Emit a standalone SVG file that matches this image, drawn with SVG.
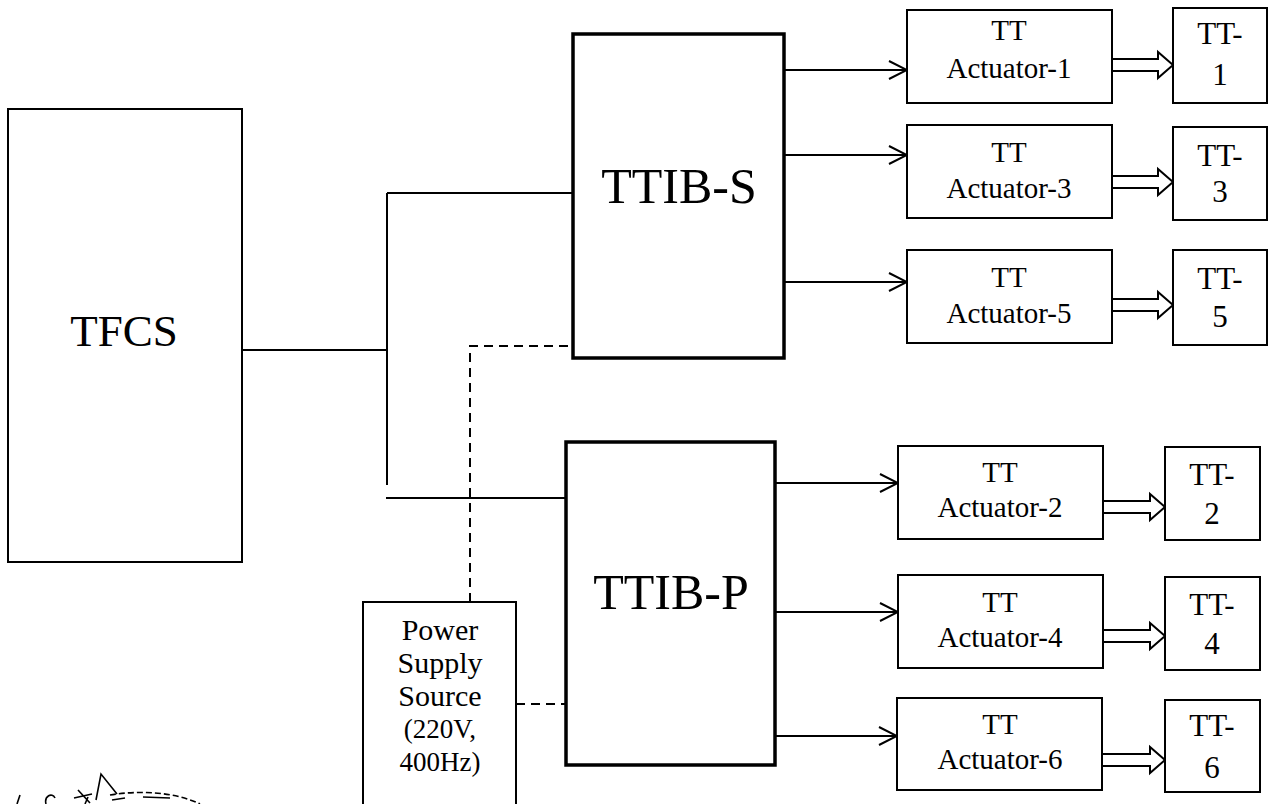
<svg xmlns="http://www.w3.org/2000/svg" width="1271" height="804" viewBox="0 0 1271 804">
<defs>
<style>
.box{fill:#fff;stroke:#000;stroke-width:2}
.thick{fill:#fff;stroke:#000;stroke-width:3.5}
.ln{fill:none;stroke:#000;stroke-width:2}
.dash{fill:none;stroke:#000;stroke-width:2;stroke-dasharray:9 6}
.dbl{fill:none;stroke:#000;stroke-width:2;stroke-linejoin:miter}
text{font-family:"Liberation Serif","Times New Roman",serif;fill:#000;text-anchor:middle}
.big{font-size:50px}
.act{font-size:29px}
.tt{font-size:31px}
.ps{font-size:30px}
.ps2{font-size:27px}
</style>
<marker id="ah" viewBox="0 0 20 20" refX="19" refY="10" markerWidth="20" markerHeight="20" markerUnits="userSpaceOnUse" orient="auto">
<path d="M1,1 L19,10 L1,19" fill="none" stroke="#000" stroke-width="2"/>
</marker>
</defs>
<rect width="1271" height="804" fill="#fff"/>

<g id="connectors">
<path class="ln" d="M242,350 H387"/>
<path class="ln" d="M387,193 V485"/>
<path class="ln" d="M387,193 H573"/>
<path class="ln" d="M386,498 H566"/>
<path class="dash" d="M470,602 V346 H573"/>
<path class="dash" d="M516,704 H566"/>
<path class="ln" marker-end="url(#ah)" d="M784,70 H907"/>
<path class="ln" marker-end="url(#ah)" d="M784,155 H907"/>
<path class="ln" marker-end="url(#ah)" d="M784,282 H907"/>
<path class="ln" marker-end="url(#ah)" d="M775,483 H898"/>
<path class="ln" marker-end="url(#ah)" d="M775,612 H898"/>
<path class="ln" marker-end="url(#ah)" d="M775,736 H897"/>
<path class="dbl" d="M1112,59 H1158 V52 L1173,65 L1158,78 V71 H1112"/>
<path class="dbl" d="M1112,176 H1158 V169 L1173,182 L1158,195 V188 H1112"/>
<path class="dbl" d="M1112,299 H1158 V292 L1173,305 L1158,318 V311 H1112"/>
<path class="dbl" d="M1103,501 H1150 V494 L1165,507 L1150,520 V513 H1103"/>
<path class="dbl" d="M1103,630 H1150 V623 L1165,636 L1150,649 V642 H1103"/>
<path class="dbl" d="M1102,754 H1150 V747 L1165,760 L1150,773 V766 H1102"/>
</g>

<g id="TFCS">
<rect class="box" x="8" y="109" width="234" height="453"/>
<text class="big" style="font-size:45px" x="124" y="346">TFCS</text>
</g>

<g id="TTIB-S">
<rect class="thick" x="573" y="34" width="211" height="324"/>
<text class="big" x="679" y="203">TTIB-S</text>
</g>

<g id="TTIB-P">
<rect class="thick" x="566" y="442" width="209" height="323"/>
<text class="big" x="671" y="609">TTIB-P</text>
</g>

<g id="PowerSupply">
<rect class="box" x="363" y="602" width="153" height="215"/>
<text class="ps" x="440" y="640">Power</text>
<text class="ps" x="440" y="673">Supply</text>
<text class="ps" x="440" y="706">Source</text>
<text class="ps2" x="440" y="738">(220V,</text>
<text class="ps2" x="440" y="771">400Hz)</text>
</g>

<g id="Actuator-1">
<rect class="box" x="907" y="10" width="205" height="93"/>
<text class="act" x="1009" y="40">TT</text>
<text class="act" x="1009" y="78">Actuator-1</text>
</g>
<g id="TT-1">
<rect class="box" x="1173" y="8" width="94" height="95"/>
<text class="tt" x="1220" y="44">TT-</text>
<text class="tt" x="1220" y="85">1</text>
</g>

<g id="Actuator-3">
<rect class="box" x="907" y="125" width="205" height="93"/>
<text class="act" x="1009" y="162">TT</text>
<text class="act" x="1009" y="198">Actuator-3</text>
</g>
<g id="TT-3">
<rect class="box" x="1173" y="127" width="94" height="93"/>
<text class="tt" x="1220" y="166">TT-</text>
<text class="tt" x="1220" y="202">3</text>
</g>

<g id="Actuator-5">
<rect class="box" x="907" y="250" width="205" height="93"/>
<text class="act" x="1009" y="287">TT</text>
<text class="act" x="1009" y="323">Actuator-5</text>
</g>
<g id="TT-5">
<rect class="box" x="1173" y="250" width="94" height="95"/>
<text class="tt" x="1220" y="289">TT-</text>
<text class="tt" x="1220" y="327">5</text>
</g>

<g id="Actuator-2">
<rect class="box" x="898" y="446" width="205" height="93"/>
<text class="act" x="1000" y="482">TT</text>
<text class="act" x="1000" y="517">Actuator-2</text>
</g>
<g id="TT-2">
<rect class="box" x="1165" y="447" width="95" height="93"/>
<text class="tt" x="1212" y="485">TT-</text>
<text class="tt" x="1212" y="524">2</text>
</g>

<g id="Actuator-4">
<rect class="box" x="898" y="575" width="205" height="93"/>
<text class="act" x="1000" y="612">TT</text>
<text class="act" x="1000" y="647">Actuator-4</text>
</g>
<g id="TT-4">
<rect class="box" x="1165" y="577" width="95" height="93"/>
<text class="tt" x="1212" y="615">TT-</text>
<text class="tt" x="1212" y="654">4</text>
</g>

<g id="Actuator-6">
<rect class="box" x="897" y="698" width="205" height="92"/>
<text class="act" x="1000" y="734">TT</text>
<text class="act" x="1000" y="769">Actuator-6</text>
</g>
<g id="TT-6">
<rect class="box" x="1165" y="700" width="95" height="92"/>
<text class="tt" x="1212" y="736">TT-</text>
<text class="tt" x="1212" y="778">6</text>
</g>

<g id="mark" fill="none" stroke="#000" stroke-width="1.6">
<path d="M17,804 L20,795"/>
<path d="M46,804 C44,796 52,792 55,798"/>
<path d="M78,790 L90,803 M74,798 L92,794 M85,804 L88,797"/>
<path d="M96,800 L101,774 L117,794"/>
<path d="M110,795 C140,790 175,792 200,804" stroke-dasharray="6 3"/>
<path d="M112,800 L125,798"/>
<path d="M143,797 L170,798"/>
</g>
</svg>
